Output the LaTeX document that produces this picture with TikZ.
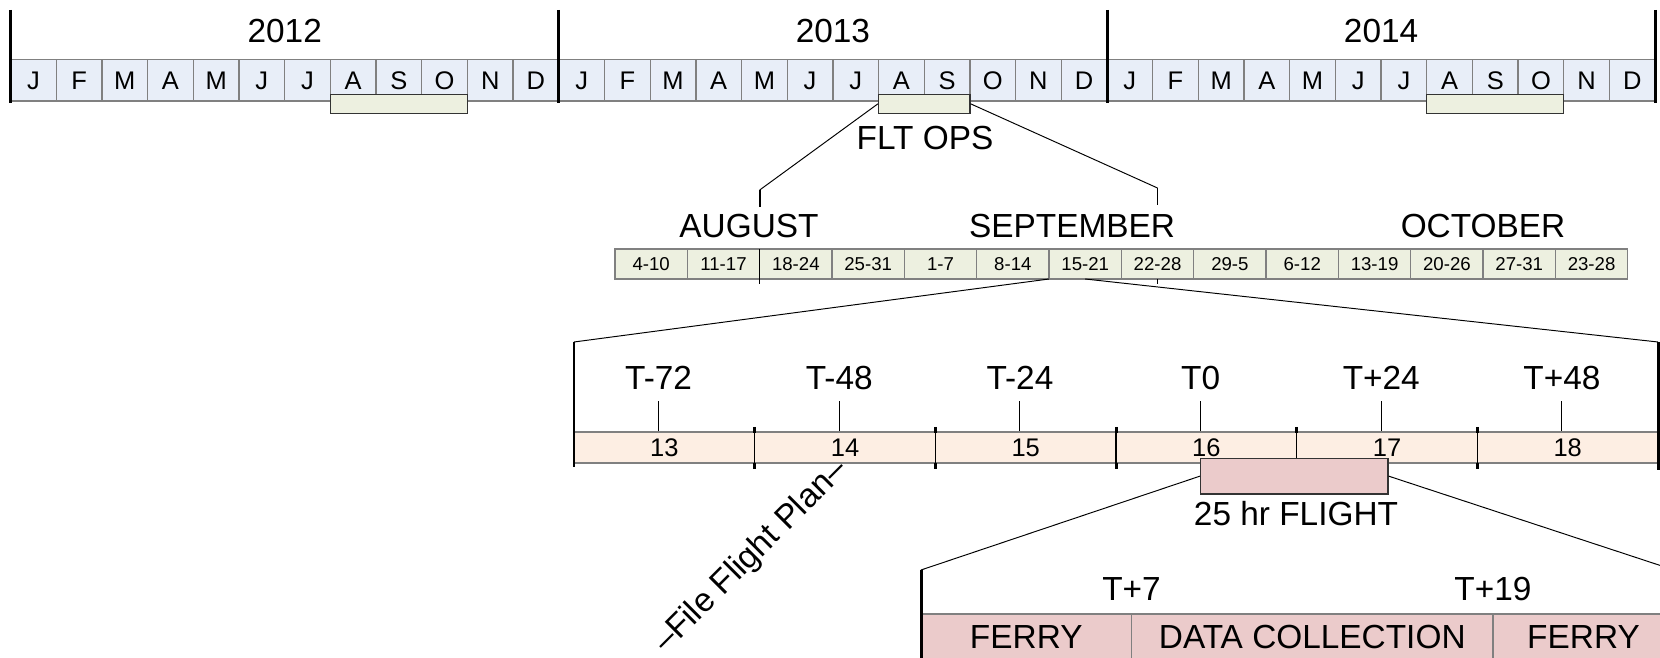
\documentclass[tikz,border=0pt]{standalone}
\usepackage{fontspec}
\setmainfont{Liberation Sans}
\usepackage{tikz}
\usetikzlibrary{fit}

\definecolor{monthfill}{HTML}{E8EEF8}
\definecolor{weekfill}{HTML}{EDF0E0}
\definecolor{dayfill}{HTML}{FDEEE3}
\definecolor{fltfill}{HTML}{EBCBCB}

\begin{document}
\begin{tikzpicture}[x=0.2mm,y=-0.2mm,
  bar/.style={line width=1.7pt},
  zoomline/.style={line width=0.55pt},
  tick/.style={line width=0.6pt},
  lbl/.style={inner sep=0pt,outer sep=0pt,text depth=0pt},
  bigtxt/.style={lbl,text height=13.6pt,font=\fontsize{19}{22}\selectfont},
  midtxt/.style={lbl,text height=10.4pt,font=\fontsize{14.5}{17}\selectfont},
  smalltxt/.style={lbl,text height=7.6pt,font=\fontsize{10.6}{13}\selectfont},
  cellbox/.style={draw=black!50,line width=0.75pt,inner sep=0pt,outer sep=0pt},
  monthcell/.style={cellbox,midtxt,fill=monthfill,minimum width=9.136mm,minimum height=8.34mm},
  weekcell/.style={cellbox,smalltxt,fill=weekfill,minimum width=14.468mm,minimum height=6mm},
  daycell/.style={cellbox,midtxt,fill=dayfill,minimum width=36.134mm,minimum height=6.2mm},
  phasecell/.style={cellbox,bigtxt,fill=fltfill,minimum height=9.2mm},
  opsbox/.style={draw=black!80,line width=0.75pt,fill=weekfill,inner sep=0pt},
  fltbox/.style={draw=black!80,line width=0.75pt,fill=fltfill,inner sep=0pt}]
\useasboundingbox (0,0) rectangle (1660,658);
\clip (0,0) rectangle (1660,658);

% Years and months
\foreach \yr [count=\i from 0] in {2012,2013,2014} {
  \pgfmathsetmacro\yx{10.6+548.2*\i}
  \foreach \mo [count=\j from 0] in {J,F,M,A,M,J,J,A,S,O,N,D}
    \node[monthcell] (m\i-\j) at (\yx+45.68*\j+22.84,80.15) {\mo};
  \node[bigtxt] (yr\i) at (\yx+274.1,31) {\yr};
}
\foreach \x in {10.6,558.8,1107,1655.2}
  \draw[bar] (\x,10) -- (\x,102.7);

% Flight ops windows
\node[opsbox,fit={(330.4,94.3)(467.4,113.3)}] (ops12) {};
\node[opsbox,fit={(878.6,94.3)(969.9,113.3)}] (ops13) {};
\node[opsbox,fit={(1426.8,94.3)(1563.8,113.3)}] (ops14) {};
\node[bigtxt] (opslbl) at (925,138) {FLT OPS};

% Weeks
\foreach \wk [count=\k from 0] in {4-10,11-17,18-24,25-31,1-7,8-14,15-21,22-28,29-5,6-12,13-19,20-26,27-31,23-28}
  \node[weekcell] (w\k) at (651.17+72.34*\k,264) {\wk};
\node[bigtxt] (aug) at (749,226) {AUGUST};
\node[bigtxt] (sep) at (1072,226) {SEPTEMBER};
\node[bigtxt] (oct) at (1483,226) {OCTOBER};
\coordinate (augtop) at (759.7,190);
\coordinate (septop) at (1157.5,188);
\draw[zoomline] (ops13.west) -- (augtop);
\draw[zoomline] (ops13.east) -- (septop);
\draw[line width=1pt] (augtop) -- ++(0,17);
\draw[line width=1pt] (septop) -- ++(0,17);
\draw[line width=0.8pt] (759.7,249) -- (759.7,284);
\draw[line width=0.8pt] (1157.5,279) -- (1157.5,284);

% Days
\coordinate (dayl) at (574,342);
\coordinate (dayr) at (1658,342);
\draw[zoomline] (w6.south west) -- (dayl);
\draw[zoomline] (w6.south) -- (dayr);
\foreach \d [count=\k from 0] in {13,...,18}
  \node[daycell] (d\k) at (664.33+180.67*\k,447.5) {\d};
\foreach \k in {1,...,5} {
  \draw[line width=0.8pt] (574+180.67*\k,427) -- ++(0,42);
  \draw[bar] (574+180.67*\k,427) -- ++(0,6);
  \draw[bar] (574+180.67*\k,463) -- ++(0,6);
}
\draw[bar] (dayl) -- (574,467);
\draw[bar] (dayr) -- (1658,470);
\foreach \t [count=\k] in {T-72,T-48,T-24,T0,T+24,T+48} {
  \node[bigtxt] (t\k) at (477.93+180.67*\k,378) {\t};
  \draw[tick] (t\k.south) ++(0,11.5) -- ++(0,30);
}

% Flight
\node[fltbox,fit={(1200.6,458.3)(1388,494)}] (flt) {};
\node[bigtxt] (fltlbl) at (1296,514) {25 hr FLIGHT};
\node[bigtxt,rotate=45,anchor=east] (plan) at (840,463) {–File Flight Plan–};

% Phases
\coordinate (phl) at (921,570);
\coordinate (phr) at (1674,570);
\draw[zoomline] (flt.west) -- (phl);
\draw[zoomline] (flt.east) -- (phr);
\node[phasecell,minimum width=42.1mm,anchor=north west] (ferry1) at (921,614) {FERRY};
\node[phasecell,minimum width=72.3mm,anchor=west] (data) at (ferry1.east) {DATA COLLECTION};
\node[phasecell,minimum width=36.2mm,anchor=west] (ferry2) at (data.east) {FERRY};
\node[bigtxt] (tp7) at (1131.5,589) {T+7};
\node[bigtxt] (tp19) at (1493,589) {T+19};
\draw[bar] (phl) -- (921,670);
\end{tikzpicture}
\end{document}
